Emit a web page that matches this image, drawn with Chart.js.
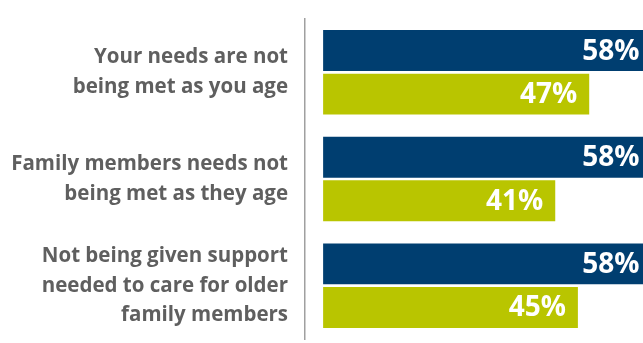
<!DOCTYPE html>
<html>
<head>
<meta charset="utf-8">
<title>Unmet needs as people age</title>
<script src="https://cdn.jsdelivr.net/npm/chart.js@4.4.1/dist/chart.umd.min.js"></script>
<style>
    html, body { margin: 0; padding: 0; background: #ffffff; }
    #wrap { width: 643px; height: 343px; position: relative; }
</style>
</head>
<body>
<div id="wrap"><canvas id="needsChart"></canvas></div>
<script>
// ------------------------------------------------------------
// Data
// ------------------------------------------------------------
const categories = [
    ['Your needs are not', 'being met as you age'],
    ['Family members needs not', 'being met as they age'],
    ['Not being given support', 'needed to care for older', 'family members']
];
const seriesBlue = [58, 58, 58];
const seriesGreen = [47, 41, 45];

const BLUE = '#003e70';
const GREEN = '#b9c500';

// white percentage labels, right-aligned just inside the bar end
const valueLabels = {
    id: 'valueLabels',
    afterDatasetsDraw(chart) {
        const ctx = chart.ctx;
        ctx.save();
        ctx.font = 'bold 28px "Open Sans"';
        ctx.fillStyle = '#ffffff';
        ctx.textAlign = 'right';
        ctx.textBaseline = 'middle';
        chart.data.datasets.forEach((ds, i) => {
            const meta = chart.getDatasetMeta(i);
            meta.data.forEach((bar, j) => {
                ctx.fillText(ds.data[j] + '%', bar.x - 12, bar.y + 1);
            });
        });
        ctx.restore();
    }
};

const ctx = document.getElementById('needsChart').getContext('2d');
new Chart(ctx, {
    type: 'bar',
    data: {
        labels: categories,
        datasets: [
            { data: seriesBlue, backgroundColor: BLUE },
            { data: seriesGreen, backgroundColor: GREEN }
        ]
    },
    options: {
        indexAxis: 'y',
        responsive: true,
        maintainAspectRatio: false,
        animation: false,
        layout: { padding: { top: 19, bottom: 4, left: 0, right: 0 } },
        datasets: {
            bar: { categoryPercentage: 0.817, barPercentage: 0.94 }
        },
        plugins: {
            legend: { display: false },
            tooltip: { enabled: false }
        },
        scales: {
            x: {
                display: false,
                min: -3.2,
                max: 56.5
            },
            y: {
                grid: { display: false, drawTicks: false },
                border: { display: true, color: '#a0a0a0', width: 1.5 },
                ticks: {
                    color: '#5f5f5f',
                    padding: 17,
                    font: { family: '"Open Sans"', size: 20.5, weight: 'bold', lineHeight: 1.46 }
                },
                afterFit(scale) {
                    // fixed label column; labels sit mid-category so no extra edge padding
                    scale.width = 305;
                    scale.paddingTop = 0;
                    scale.paddingBottom = 0;
                }
            }
        }
    },
    plugins: [valueLabels]
});
</script>
</body>
</html>
